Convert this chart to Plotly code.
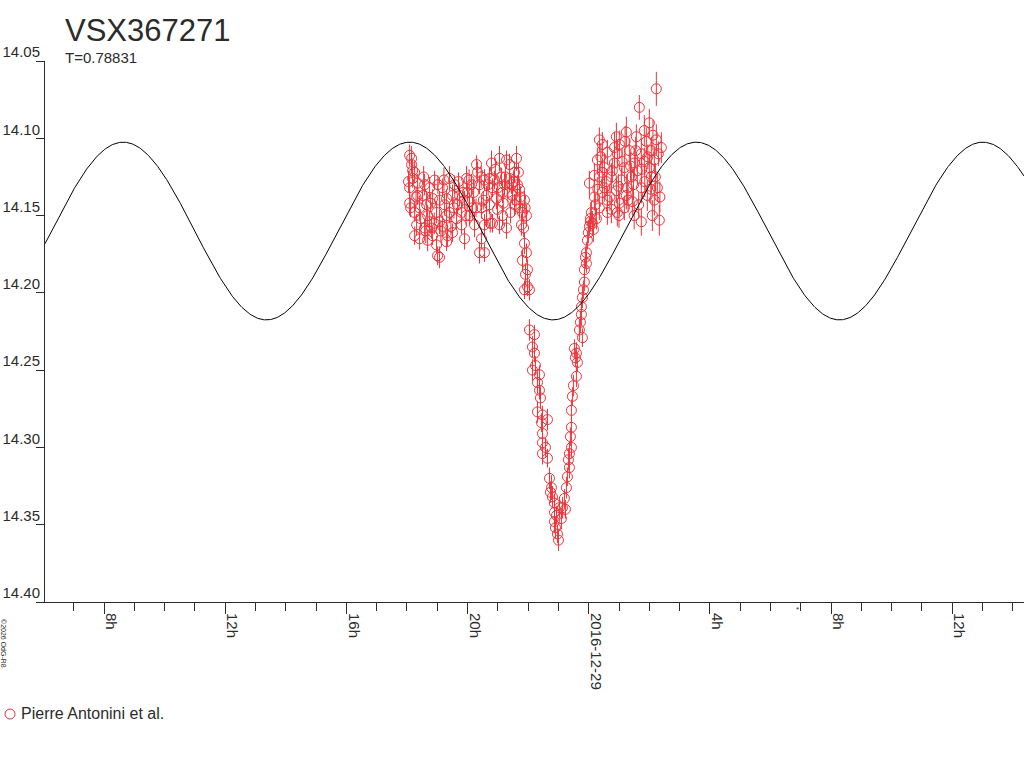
import numpy as np
import plotly.graph_objects as go

TITLE = "VSX367271"
PERIOD_DAYS = 0.78831
OBSERVER = "Pierre Antonini et al."
COPYRIGHT = "©2026 OdG-R8"

# Observations: time in hours since 2016-12-28 00:00 UT, V magnitude, error
seg_a_hours = [18.087, 18.153, 18.153, 18.252, 18.186, 18.087, 18.087, 18.252, 18.318, 18.252,
               18.417, 18.582, 18.681, 18.648, 18.516, 18.747, 18.846, 18.977, 19.076, 19.010,
               19.076, 19.307, 19.340, 19.175, 19.406, 19.505, 19.670, 19.637, 19.802, 19.901,
               19.967, 20.000, 20.165, 20.297, 20.330, 20.231, 20.461, 20.395, 20.560, 20.626,
               20.626, 20.725, 20.791, 20.824, 20.956, 21.055, 21.121, 21.154, 21.286, 21.385,
               21.385, 21.484, 21.616, 21.550, 21.649, 21.714, 21.813, 21.780, 21.055, 21.154,
               20.725, 19.406, 19.307, 18.747, 18.417, 18.351, 18.813, 18.846, 19.175, 19.505,
               19.802, 20.066, 20.461, 20.824, 21.286, 18.186, 18.351, 18.582, 18.912, 19.241,
               19.571, 19.736, 19.901, 20.132, 20.395, 20.560, 20.890, 21.220, 21.451, 21.714,
               21.879, 21.945, 19.076, 18.681, 18.977, 19.307, 20.066, 20.560, 20.989, 21.550,
               18.050, 18.120, 18.300, 18.450, 18.550, 18.620, 18.780, 18.900, 19.020, 19.120,
               19.220, 19.450, 19.550, 19.700, 19.850, 19.950, 20.050, 20.200, 20.280, 20.450,
               20.520, 20.680, 20.750, 20.920, 21.000, 21.180, 21.250, 21.330, 21.420, 21.520,
               21.600, 21.680, 21.750, 21.850, 21.900]
seg_a_mags = [14.111, 14.113, 14.117, 14.122, 14.126, 14.132, 14.142, 14.148, 14.156, 14.163,
              14.165, 14.158, 14.150, 14.143, 14.137, 14.132, 14.139, 14.148, 14.154, 14.176,
              14.177, 14.167, 14.163, 14.132, 14.126, 14.137, 14.143, 14.152, 14.156, 14.165,
              14.126, 14.135, 14.145, 14.117, 14.122, 14.156, 14.165, 14.174, 14.174, 14.150,
              14.137, 14.126, 14.116, 14.132, 14.139, 14.113, 14.125, 14.135, 14.114, 14.117,
              14.126, 14.137, 14.113, 14.122, 14.130, 14.145, 14.148, 14.156, 14.156, 14.150,
              14.143, 14.148, 14.139, 14.154, 14.145, 14.137, 14.158, 14.163, 14.157, 14.161,
              14.148, 14.141, 14.145, 14.155, 14.158, 14.121, 14.129, 14.130, 14.127, 14.143,
              14.130, 14.137, 14.140, 14.130, 14.130, 14.127, 14.127, 14.130, 14.130, 14.133,
              14.140, 14.150, 14.140, 14.166, 14.169, 14.150, 14.150, 14.156, 14.146, 14.143,
              14.128, 14.145, 14.138, 14.152, 14.125, 14.160, 14.142, 14.155, 14.130, 14.160,
              14.127, 14.157, 14.145, 14.128, 14.135, 14.150, 14.127, 14.135, 14.145, 14.125,
              14.140, 14.130, 14.155, 14.120, 14.132, 14.142, 14.125, 14.135, 14.148, 14.128,
              14.140, 14.122, 14.138, 14.158, 14.145]
seg_a_errs = [0.007, 0.008, 0.006, 0.007, 0.006, 0.007, 0.008, 0.006, 0.007, 0.006,
              0.007, 0.006, 0.007, 0.008, 0.006, 0.007, 0.006, 0.007, 0.008, 0.006,
              0.007, 0.006, 0.007, 0.006, 0.008, 0.007, 0.006, 0.007, 0.006, 0.007,
              0.008, 0.006, 0.007, 0.006, 0.007, 0.008, 0.006, 0.007, 0.006, 0.007,
              0.006, 0.007, 0.008, 0.006, 0.007, 0.008, 0.006, 0.007, 0.006, 0.007,
              0.008, 0.006, 0.008, 0.007, 0.006, 0.007, 0.006, 0.007, 0.006, 0.007,
              0.006, 0.007, 0.006, 0.007, 0.008, 0.006, 0.007, 0.006, 0.007, 0.006,
              0.007, 0.006, 0.007, 0.006, 0.007, 0.007, 0.006, 0.007, 0.006, 0.007,
              0.006, 0.007, 0.006, 0.007, 0.006, 0.007, 0.006, 0.007, 0.006, 0.007,
              0.006, 0.007, 0.006, 0.007, 0.006, 0.007, 0.006, 0.007, 0.006, 0.007,
              0.007, 0.006, 0.007, 0.006, 0.007, 0.008, 0.006, 0.007, 0.006, 0.007,
              0.008, 0.006, 0.007, 0.006, 0.007, 0.006, 0.007, 0.008, 0.006, 0.007,
              0.006, 0.007, 0.006, 0.007, 0.008, 0.006, 0.007, 0.006, 0.007, 0.006,
              0.007, 0.006, 0.007, 0.006, 0.007]

seg_b_hours = [21.879, 21.945, 21.813, 21.978, 21.912, 21.978, 22.044, 21.879, 22.044, 22.209,
               22.143, 22.209, 22.143, 22.374, 22.308, 22.374, 22.308, 22.473, 22.638, 22.440,
               22.473, 22.473, 22.473, 22.638, 22.704, 22.770, 22.803, 22.869, 23.033, 22.869,
               22.869, 22.968, 23.001, 22.242, 22.407, 22.572, 22.737, 22.935, 22.902]
seg_b_mags = [14.168, 14.174, 14.179, 14.185, 14.188, 14.196, 14.198, 14.198, 14.224, 14.227,
              14.235, 14.239, 14.250, 14.253, 14.258, 14.263, 14.277, 14.279, 14.282, 14.284,
              14.291, 14.297, 14.304, 14.307, 14.320, 14.326, 14.332, 14.336, 14.339, 14.342,
              14.348, 14.356, 14.360, 14.247, 14.268, 14.300, 14.329, 14.344, 14.352]
seg_b_errs = [0.007, 0.006, 0.007, 0.006, 0.007, 0.006, 0.007, 0.006, 0.007, 0.006,
              0.007, 0.006, 0.007, 0.006, 0.007, 0.006, 0.007, 0.006, 0.007, 0.006,
              0.007, 0.006, 0.007, 0.006, 0.007, 0.008, 0.007, 0.006, 0.007, 0.008,
              0.007, 0.006, 0.007, 0.006, 0.007, 0.006, 0.007, 0.006, 0.007]

seg_c_hours = [23.132, 23.198, 23.264, 23.297, 23.363, 23.363, 23.429, 23.429, 23.429, 23.462,
               23.594, 23.627, 23.594, 23.528, 23.693, 23.792, 23.759, 23.759, 23.792, 23.858,
               23.858, 23.924, 23.924, 24.022, 23.099, 23.231, 23.330, 23.396, 23.495, 23.561,
               23.726, 23.825, 23.891, 23.957, 23.989, 24.055]
seg_c_mags = [14.339, 14.333, 14.326, 14.319, 14.313, 14.304, 14.300, 14.287, 14.276, 14.267,
              14.254, 14.245, 14.239, 14.236, 14.224, 14.229, 14.214, 14.209, 14.203, 14.193,
              14.185, 14.181, 14.174, 14.157, 14.346, 14.340, 14.308, 14.293, 14.260, 14.242,
              14.219, 14.198, 14.177, 14.166, 14.161, 14.154]
seg_c_errs = [0.007, 0.006, 0.007, 0.006, 0.007, 0.008, 0.007, 0.006, 0.007, 0.006,
              0.007, 0.006, 0.007, 0.006, 0.007, 0.006, 0.007, 0.006, 0.007, 0.006,
              0.007, 0.006, 0.007, 0.006, 0.007, 0.006, 0.007, 0.006, 0.007, 0.006,
              0.007, 0.006, 0.007, 0.006, 0.007, 0.006]

seg_d_hours = [26.232, 25.671, 26.001, 24.352, 24.913, 25.243, 25.572, 25.902, 26.232, 24.616,
               24.946, 25.341, 25.737, 24.286, 24.517, 24.847, 25.177, 25.506, 25.836, 26.166,
               26.397, 24.352, 24.748, 25.078, 25.407, 26.067, 24.022, 24.517, 24.913, 25.276,
               25.737, 26.265, 24.187, 24.616, 25.012, 25.440, 25.935, 24.352, 24.748, 25.177,
               24.088, 24.121, 24.253, 25.737, 26.331, 24.616, 24.946, 24.451, 25.012, 25.836,
               26.067, 24.781, 25.605, 26.001, 24.187, 25.243, 26.166, 24.451, 24.220, 24.055,
               24.154, 24.400, 24.580, 24.700, 24.850, 24.980, 25.100, 25.200, 25.300, 25.380,
               25.480, 25.550, 25.650, 25.750, 25.850, 25.950, 26.050, 26.120, 26.200, 26.300,
               26.350, 24.300, 24.450, 25.000, 25.500, 26.100]
seg_d_mags = [14.068, 14.080, 14.090, 14.101, 14.099, 14.096, 14.099, 14.102, 14.101, 14.109,
              14.110, 14.108, 14.110, 14.114, 14.119, 14.116, 14.119, 14.116, 14.115, 14.114,
              14.106, 14.125, 14.125, 14.127, 14.125, 14.125, 14.129, 14.132, 14.134, 14.132,
              14.132, 14.132, 14.138, 14.140, 14.142, 14.141, 14.137, 14.145, 14.146, 14.145,
              14.148, 14.155, 14.152, 14.154, 14.153, 14.148, 14.148, 14.104, 14.104, 14.095,
              14.108, 14.121, 14.121, 14.119, 14.124, 14.137, 14.140, 14.135, 14.143, 14.152,
              14.159, 14.112, 14.128, 14.138, 14.106, 14.131, 14.115, 14.102, 14.140, 14.118,
              14.130, 14.108, 14.143, 14.120, 14.128, 14.112, 14.133, 14.098, 14.125, 14.110,
              14.138, 14.133, 14.122, 14.150, 14.150, 14.150]
seg_d_errs = [0.011, 0.008, 0.009, 0.008, 0.009, 0.010, 0.008, 0.009, 0.010, 0.008,
              0.009, 0.008, 0.010, 0.008, 0.009, 0.008, 0.009, 0.010, 0.009, 0.008,
              0.010, 0.008, 0.009, 0.008, 0.009, 0.010, 0.008, 0.009, 0.008, 0.009,
              0.010, 0.009, 0.008, 0.009, 0.008, 0.009, 0.010, 0.008, 0.009, 0.008,
              0.007, 0.008, 0.007, 0.009, 0.010, 0.008, 0.009, 0.008, 0.009, 0.010,
              0.009, 0.008, 0.009, 0.010, 0.008, 0.009, 0.010, 0.008, 0.007, 0.007,
              0.008, 0.009, 0.008, 0.009, 0.010, 0.008, 0.009, 0.010, 0.008, 0.009,
              0.010, 0.009, 0.008, 0.009, 0.010, 0.008, 0.009, 0.010, 0.009, 0.008,
              0.010, 0.008, 0.009, 0.008, 0.009, 0.010]

# Sinusoidal model (period T/2, as drawn in the reference)
MODEL_MEAN = 14.160
MODEL_AMP = 0.0575
MODEL_T_MAX = 18.09  # hours since 2016-12-28 00:00, a light maximum

x_range = [6.05, 38.37]
y_range = [14.40, 14.05]
y_tick_vals = [14.05, 14.10, 14.15, 14.20, 14.25, 14.30, 14.35, 14.40]
x_tick_vals = [8, 12, 16, 20, 24, 28, 32, 36]
x_tick_text = ["8h", "12h", "16h", "20h", "2016-12-29", "4h", "8h", "12h"]

RED = "#ee3339"
INK = "#2b2b2b"
FONT = "Liberation Sans, Arial, sans-serif"

hours = seg_a_hours + seg_b_hours + seg_c_hours + seg_d_hours
mags = seg_a_mags + seg_b_mags + seg_c_mags + seg_d_mags
errs = seg_a_errs + seg_b_errs + seg_c_errs + seg_d_errs

half_period_h = PERIOD_DAYS * 24.0 / 2.0
t_grid = np.linspace(x_range[0], x_range[1], 1200)
m_grid = MODEL_MEAN - MODEL_AMP * np.cos(2 * np.pi * (t_grid - MODEL_T_MAX) / half_period_h)

fig = go.Figure()
fig.add_trace(go.Scatter(
    x=hours, y=mags, mode="markers", name=OBSERVER,
    marker=dict(symbol="circle-open", size=10, color=RED, line=dict(width=1, color=RED)),
    error_y=dict(type="data", array=errs, visible=True, color=RED, thickness=1, width=0),
    showlegend=False,
))
fig.add_trace(go.Scatter(
    x=t_grid, y=m_grid, mode="lines", line=dict(color="#000000", width=1),
    showlegend=False, hoverinfo="skip",
))

fig.update_layout(
    width=1024, height=768,
    margin=dict(l=45, r=0, t=61, b=166, autoexpand=False),
    paper_bgcolor="white", plot_bgcolor="white",
    font=dict(family=FONT, size=15, color=INK),
    showlegend=False,
)
fig.update_xaxes(
    range=x_range, showgrid=False, zeroline=False, showline=True, linecolor=INK, linewidth=1,
    tickmode="array", tickvals=x_tick_vals, ticktext=x_tick_text, tickangle=90,
    ticks="outside", ticklen=11, tickcolor=INK, tickwidth=1, automargin=False,
    tickfont=dict(size=15, color=INK), ticklabelshift=7, ticklabelstandoff=-4,
    minor=dict(tickmode="linear", tick0=0, dtick=1, ticks="outside", ticklen=8,
               tickcolor=INK, tickwidth=1, showgrid=False),
)
fig.update_yaxes(
    range=y_range, showgrid=False, zeroline=False, showline=True, linecolor=INK, linewidth=1,
    tickmode="array", tickvals=y_tick_vals, tickformat=".2f", automargin=False,
    ticks="outside", ticklen=8, tickcolor=INK, tickwidth=1,
    tickfont=dict(size=15, color=INK), ticklabelshift=9, ticklabelstandoff=-7,
)

def px_x(px):
    return (px - 45) / 979.0

def px_y(py):
    return (602 - py) / 541.0

fig.add_annotation(text=TITLE, xref="paper", yref="paper", x=px_x(63), y=px_y(31),
                   xanchor="left", yanchor="middle", showarrow=False,
                   font=dict(size=31, color=INK, family=FONT))
fig.add_annotation(text=f"T={PERIOD_DAYS}", xref="paper", yref="paper", x=px_x(63), y=px_y(58),
                   xanchor="left", yanchor="middle", showarrow=False,
                   font=dict(size=15, color=INK, family=FONT))
fig.add_annotation(text=COPYRIGHT, xref="paper", yref="paper", x=px_x(4), y=px_y(643),
                   xanchor="center", yanchor="middle", showarrow=False, textangle=90,
                   font=dict(size=7, color=INK, family=FONT))
fig.add_annotation(text="*", xref="x", yref="paper", x=30.88, y=px_y(609),
                   xanchor="center", yanchor="middle", showarrow=False,
                   font=dict(size=8, color=INK, family=FONT))
# legend entry (symbol + observer name)
fig.add_shape(type="circle", xref="paper", yref="paper", xsizemode="pixel", ysizemode="pixel",
              xanchor=px_x(10), yanchor=px_y(714), x0=-5, x1=5, y0=-5, y1=5,
              line=dict(color=RED, width=1))
fig.add_annotation(text=OBSERVER, xref="paper", yref="paper", x=px_x(19), y=px_y(713),
                   xanchor="left", yanchor="middle", showarrow=False,
                   font=dict(size=16, color=INK, family=FONT))

fig.write_html("out.html", config={"displayModeBar": False},
               post_script="document.body.style.margin='0';document.body.style.padding='0';")
